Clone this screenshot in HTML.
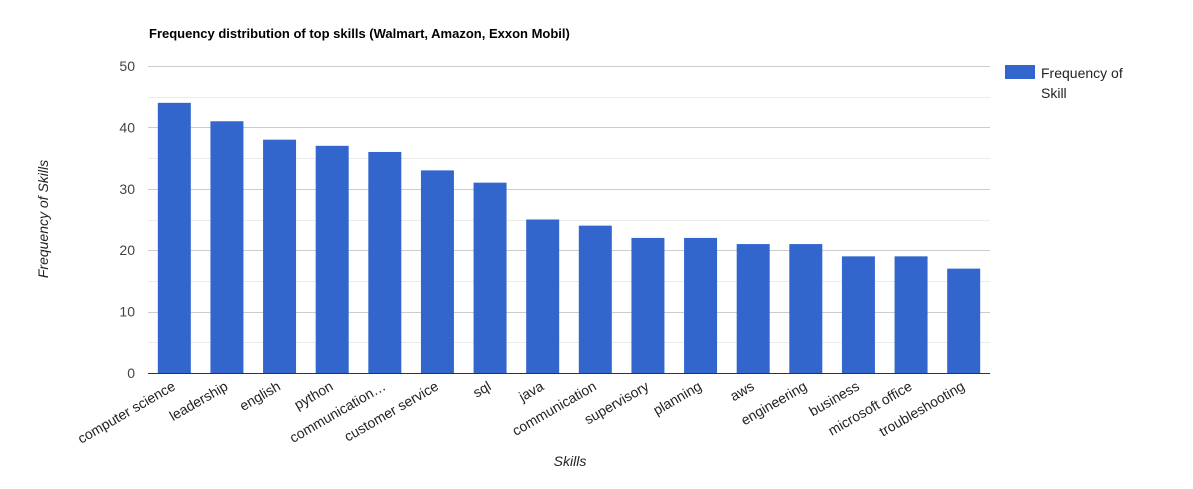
<!DOCTYPE html>
<html><head><meta charset="utf-8"><style>
body{margin:0;background:#fff;}
svg{display:block;font-family:"Liberation Sans",Arial,sans-serif;}
</style></head><body>
<svg id="chart" width="1193" height="489">
<text x="149" y="38" font-size="13" font-weight="bold" fill="#000">Frequency distribution of top skills (Walmart, Amazon, Exxon Mobil)</text>
<g id="grid"></g><g id="bars"></g><g id="xlabels"></g><g id="ylabels"></g>
<line x1="148" y1="373.5" x2="990" y2="373.5" stroke="#333" stroke-width="1"/>
<text x="570" y="466" font-size="14" font-style="italic" fill="#222" text-anchor="middle">Skills</text>
<text transform="translate(48,219) rotate(-90)" font-size="14" font-style="italic" fill="#222" text-anchor="middle">Frequency of Skills</text>
<g>
<rect x="1005" y="65" width="30" height="14" fill="#3366cc"/>
<text x="1041" y="78" font-size="14" fill="#222"><tspan x="1041">Frequency of</tspan><tspan x="1041" dy="20">Skill</tspan></text>
</g>
</svg>
<script>
const categories=["computer science","leadership","english","python","communication…","customer service","sql","java","communication","supervisory","planning","aws","engineering","business","microsoft office","troubleshooting"];
const values=[44,41,38,37,36,33,31,25,24,22,22,21,21,19,19,17];
const yTicks=[0,10,20,30,40,50];
const NS="http://www.w3.org/2000/svg";
const plotLeft=148,plotRight=990,plotTop=66,plotBottom=373,yMax=50;
const yScale=v=>plotBottom-(v/yMax)*(plotBottom-plotTop);
const step=(plotRight-plotLeft)/categories.length;
const xScale=i=>plotLeft+step*(i+0.5);
const bw=33;
const grid=document.getElementById('grid'),bars=document.getElementById('bars'),xl=document.getElementById('xlabels'),yl=document.getElementById('ylabels');
function mk(t,a){const e=document.createElementNS(NS,t);for(const k in a)e.setAttribute(k,a[k]);return e;}
for(let i=0;i<yTicks.length-1;i++){
 const m=(yTicks[i]+yTicks[i+1])/2;
 const g=mk('line',{x1:plotLeft,x2:plotRight,y1:Math.round(yScale(m))+0.5,y2:Math.round(yScale(m))+0.5,stroke:'#ebebeb'});
 
 
 grid.appendChild(g);
}
yTicks.forEach(t=>{
 const g=mk('line',{x1:plotLeft,x2:plotRight,y1:Math.round(yScale(t))+0.5,y2:Math.round(yScale(t))+0.5,stroke:'#ccc'});
 
 
 grid.appendChild(g);
 const l=mk('text',{x:135,y:yScale(t)+5,'font-size':14,fill:'#444','text-anchor':'end'});
 l.textContent=t;
 
 
 yl.appendChild(l);
});
categories.forEach((c,i)=>{
 const r=mk('rect',{x:xScale(i)-bw/2,y:yScale(values[i]),width:bw,height:plotBottom-yScale(values[i]),fill:'#3366cc'});
 
 
 bars.appendChild(r);
 const t=mk('text',{transform:`translate(${xScale(i)+2},${plotBottom+16}) rotate(-30)`,'font-size':14,fill:'#222','text-anchor':'end'});
 t.textContent=c;
 
 
 xl.appendChild(t);
});
</script>
</body></html>
